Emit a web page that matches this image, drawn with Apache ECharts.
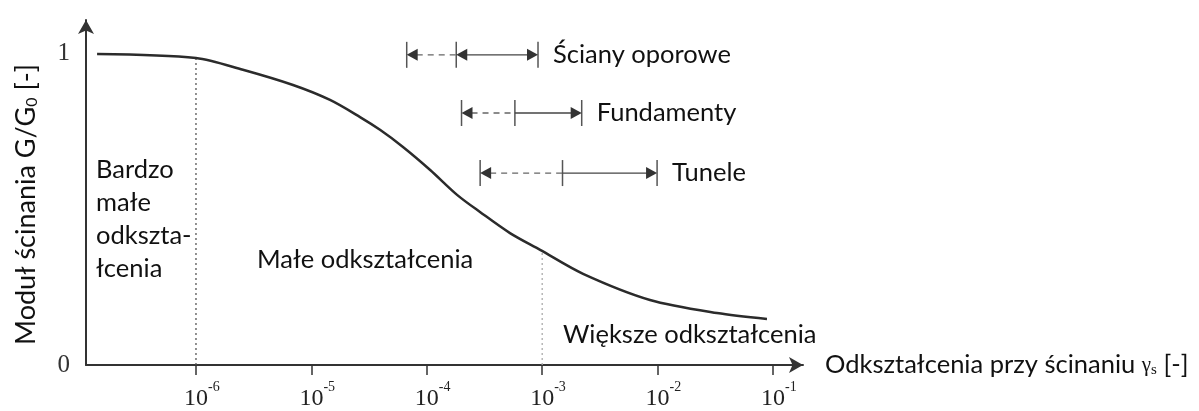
<!DOCTYPE html>
<html>
<head>
<meta charset="utf-8">
<script src="https://cdn.jsdelivr.net/npm/echarts@6/dist/echarts.min.js"></script>
<style>
  html, body { margin: 0; padding: 0; background: #fff; }
  #chart { width: 1199px; height: 411px; }
</style>
</head>
<body>
<div id="chart"></div>
<script>
// krzywa degradacji modułu ścinania
const strain  = [1.39e-7, 1e-6, 2.55e-6, 6.93e-6, 1.45e-5, 2.64e-5, 3.93e-5, 6.22e-5, 1.07e-4, 1.83e-4, 2.89e-4, 5.26e-4, 9.6e-4, 2.26e-3, 8.59e-3, 3.27e-2, 8.87e-2];
const modulus = [1.0, 0.987, 0.949, 0.900, 0.852, 0.797, 0.756, 0.701, 0.627, 0.547, 0.492, 0.424, 0.370, 0.293, 0.209, 0.167, 0.148];

// zakresy odkształceń dla konstrukcji
const rangeNames = ['Ściany oporowe', 'Fundamenty', 'Tunele'];
const rangeStart = [6.7e-5, 2.0e-4, 2.9e-4];
const rangeMid   = [1.8e-4, 5.8e-4, 1.5e-3];
const rangeEnd   = [9.2e-4, 2.2e-3, 9.9e-3];
const rangeLevel = [0.997, 0.81, 0.617];
const midArrow   = [true, false, false];

// linie graniczne (kropkowane)
const limitStrain  = [1e-6, 1e-3];
const limitModulus = [0.987, 0.366];

const xTicks = [-6, -5, -4, -3, -2, -1];
const yTicks = [0, 1];

const TXT = 'Lato, "Open Sans", sans-serif';
const SERIF = '"Liberation Serif", "DejaVu Serif", serif';
const FS = 25.5;

let lg = v => Math.log10(v);

let curveData = strain.map((s, i) => [lg(s), modulus[i]]);
let rangeData = rangeNames.map((n, i) => [lg(rangeStart[i]), lg(rangeMid[i]), lg(rangeEnd[i]), rangeLevel[i]]);

let arrowHead = function (tip, dir, color) {
    // dir: -1 w lewo, 1 w prawo
    let len = 11, hw = 6;
    return {
        type: 'polygon',
        shape: { points: [[tip[0], tip[1]], [tip[0] - dir * len, tip[1] - hw], [tip[0] - dir * len, tip[1] + hw]] },
        style: { fill: color }
    };
};

let renderRange = function (params, api) {
    let i = params.dataIndex;
    let y = api.value(3);
    let pL = api.coord([api.value(0), y]);
    let pM = api.coord([api.value(1), y]);
    let pR = api.coord([api.value(2), y]);
    let h = 13;
    let children = [];
    [pL, pM, pR].forEach(p => {
        children.push({ type: 'line', shape: { x1: p[0], y1: p[1] - h, x2: p[0], y2: p[1] + h },
            style: { stroke: '#555', lineWidth: 1.5 } });
    });
    children.push({ type: 'line', shape: { x1: pL[0] + 10, y1: pL[1], x2: pM[0], y2: pM[1] },
        style: { stroke: '#666', lineWidth: 1.3, lineDash: [6, 5] } });
    children.push({ type: 'line', shape: { x1: pM[0] + (midArrow[i] ? 10 : 0), y1: pM[1], x2: pR[0] - 10, y2: pR[1] },
        style: { stroke: '#444', lineWidth: 1.3 } });
    children.push(arrowHead(pL, -1, '#333'));
    if (midArrow[i]) children.push(arrowHead(pM, -1, '#333'));
    children.push(arrowHead(pR, 1, '#333'));
    children.push({ type: 'text', x: pR[0] + 15, y: pR[1],
        style: { text: rangeNames[i], font: FS + 'px ' + TXT, fill: '#111', verticalAlign: 'middle' } });
    return { type: 'group', children: children };
};

// etykiety osi x: 10 z wykładnikiem w indeksie górnym
let renderTickLabel = function (params, api) {
    let p = api.coord([api.value(0), 0]);
    return {
        type: 'group',
        children: [
            { type: 'text', x: p[0], y: p[1] + 22,
              style: { text: '10', font: '24px ' + SERIF, fill: '#222', align: 'center', verticalAlign: 'top' } },
            { type: 'text', x: p[0] + 12, y: p[1] + 15,
              style: { text: String(api.value(0)), font: '14px ' + SERIF, fill: '#222', align: 'left', verticalAlign: 'top' } }
        ]
    };
};

let option = {
    animation: false,
    backgroundColor: '#fff',
    grid: { left: 86, right: 396, top: 20, bottom: 46, containLabel: false, outerBoundsMode: 'none' },
    xAxis: {
        type: 'value',
        min: -6.953,
        max: -0.74,
        name: 'Odkształcenia przy ścinaniu {g|γ}{s|s} [-]',
        nameLocation: 'end',
        nameGap: 22,
        nameTextStyle: {
            fontFamily: TXT, fontSize: FS, color: '#111', verticalAlign: 'middle',
            rich: {
                g: { fontFamily: SERIF, fontSize: 21, color: '#111' },
                s: { fontFamily: SERIF, fontSize: 15, color: '#111', verticalAlign: 'bottom', lineHeight: 22 }
            }
        },
        axisLine: { lineStyle: { color: '#333', width: 2 }, symbol: ['none', 'arrow'], symbolSize: [12, 14] },
        axisTick: { show: true, customValues: xTicks, length: 10, lineStyle: { color: '#333', width: 1.5 } },
        axisLabel: { show: false },
        splitLine: { show: false }
    },
    yAxis: {
        type: 'value',
        min: 0,
        max: 1.109,
        name: 'Moduł ścinania G/G{sub|0} [-]',
        nameLocation: 'middle',
        nameGap: 46,
        nameRotate: 90,
        nameTextStyle: {
            fontFamily: TXT, fontSize: 27, color: '#111', padding: [0, 24, 0, 0],
            rich: { sub: { fontFamily: TXT, fontSize: 16, color: '#111', verticalAlign: 'bottom', lineHeight: 26 } }
        },
        axisLine: { show: true, lineStyle: { color: '#333', width: 2 }, symbol: ['none', 'arrow'], symbolSize: [12, 14] },
        axisTick: { show: false },
        axisLabel: { customValues: yTicks, margin: 16, fontFamily: SERIF, fontSize: 25, color: '#333' },
        splitLine: { show: false }
    },
    series: [
        {
            type: 'line',
            data: curveData,
            smooth: 0.3,
            showSymbol: false,
            silent: true,
            lineStyle: { color: '#2b2b2b', width: 2.5 }
        },
        {
            type: 'line',
            data: [[lg(limitStrain[0]), 0], [lg(limitStrain[0]), limitModulus[0]]],
            showSymbol: false,
            silent: true,
            z: 1,
            lineStyle: { color: '#555', width: 1.3, type: [2, 3] }
        },
        {
            type: 'line',
            data: [[lg(limitStrain[1]), 0], [lg(limitStrain[1]), limitModulus[1]]],
            showSymbol: false,
            silent: true,
            z: 1,
            lineStyle: { color: '#aaa', width: 1.3, type: [2, 3] }
        },
        {
            type: 'custom',
            data: rangeData,
            encode: { x: [0, 1, 2], y: 3 },
            silent: true,
            renderItem: renderRange
        },
        {
            type: 'custom',
            data: xTicks.map(v => [v]),
            encode: { x: 0 },
            clip: false,
            silent: true,
            renderItem: renderTickLabel
        }
    ],
    graphic: [
        { type: 'text', left: 96, top: 153,
          style: { text: 'Bardzo\nmałe\nodkszta-\nłcenia', font: FS + 'px ' + TXT, lineHeight: 33, fill: '#111' } },
        { type: 'text', left: 257, top: 247,
          style: { text: 'Małe odkształcenia', font: FS + 'px ' + TXT, fill: '#111' } },
        { type: 'text', left: 563, top: 322,
          style: { text: 'Większe odkształcenia', font: FS + 'px ' + TXT, fill: '#111' } }
    ]
};

let createEchart = function (id, opt) {
    let chart = echarts.init(document.getElementById(id));
    chart.setOption(opt);
    return chart;
};

createEchart('chart', option);
</script>
</body>
</html>
